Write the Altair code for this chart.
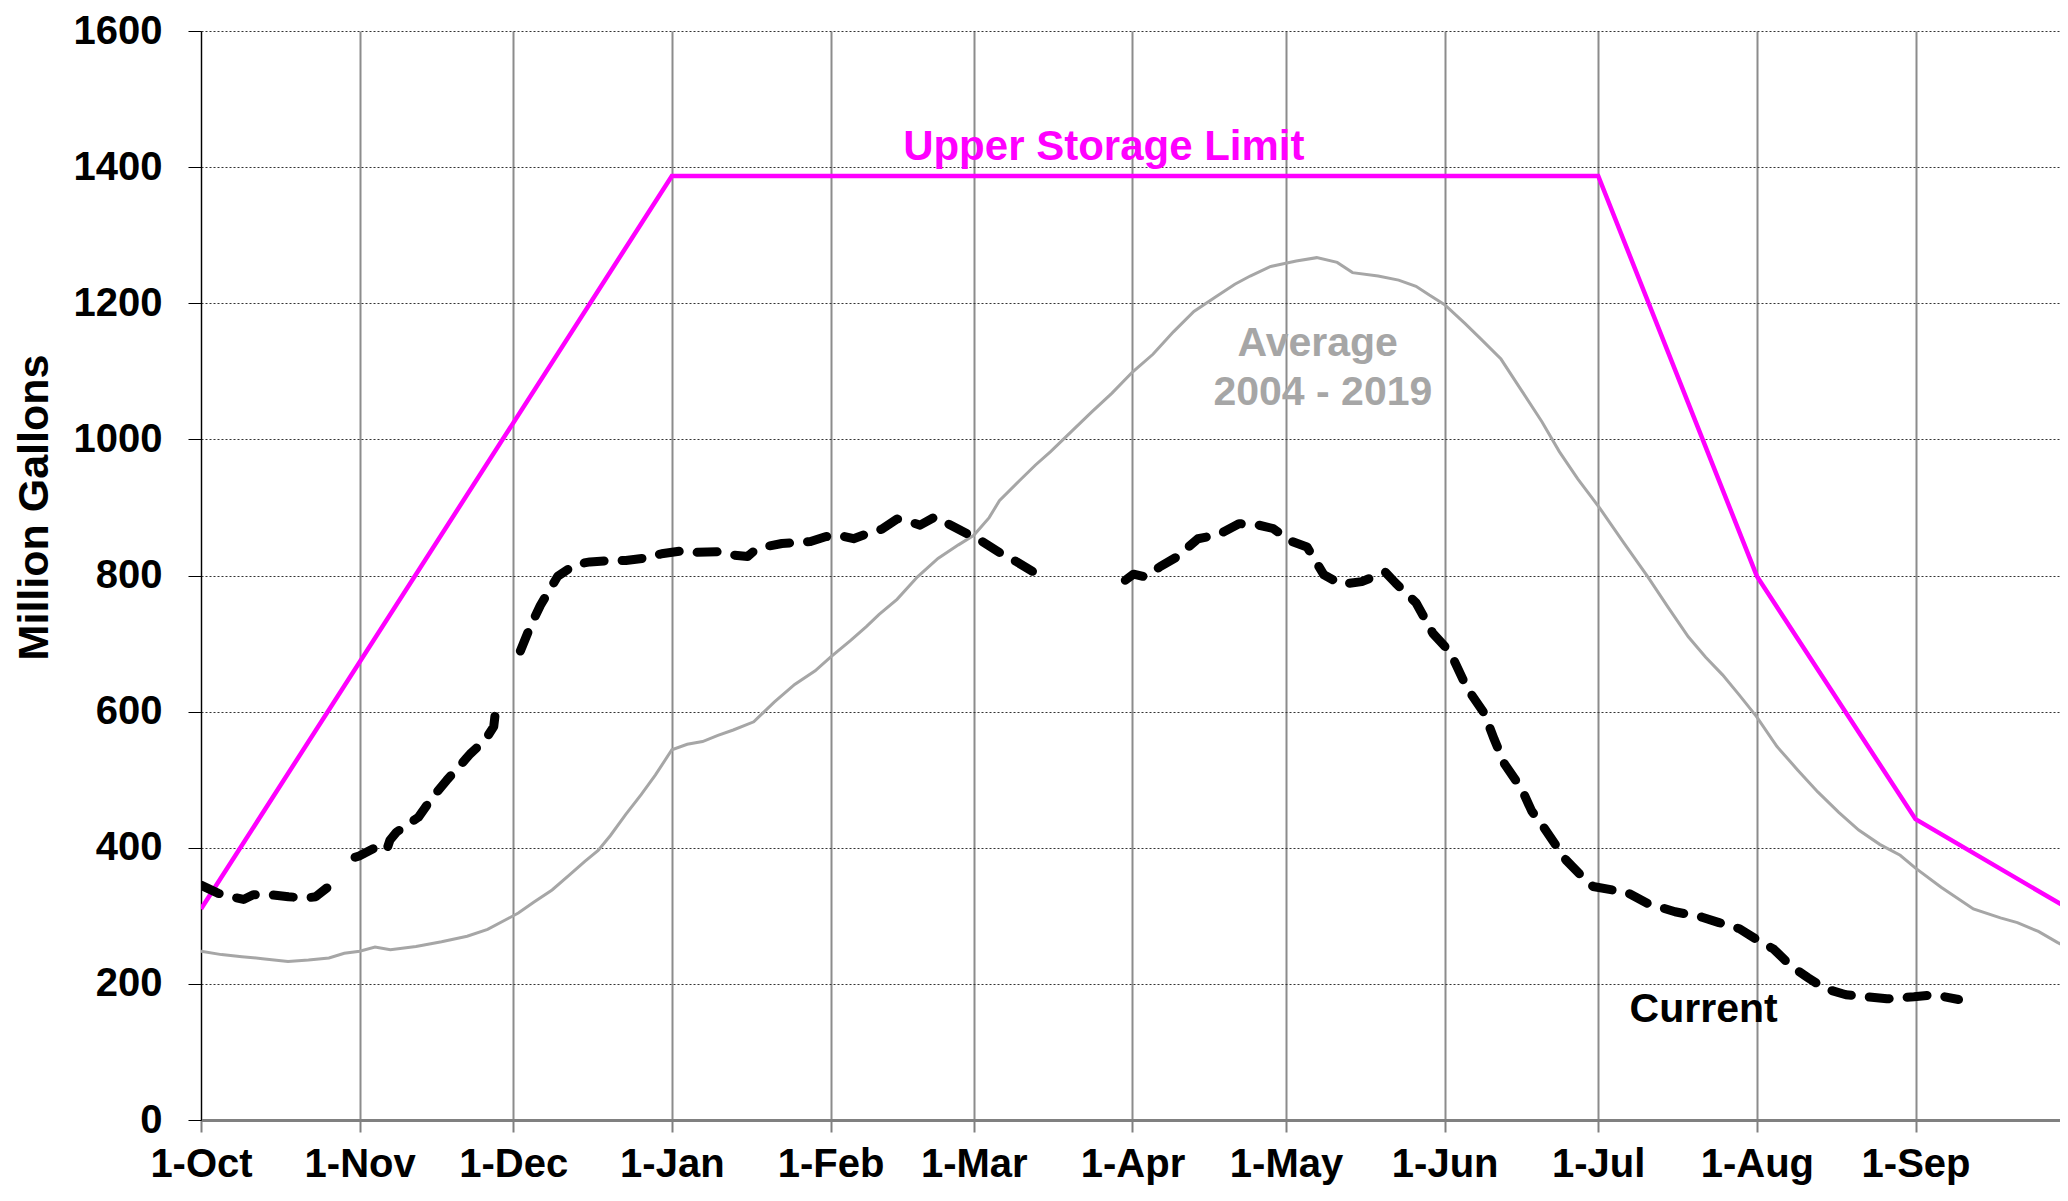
import json
import altair as alt
import pandas as pd

# ---------------- data ----------------
month_days = [0, 31, 61, 92, 123, 151, 182, 212, 243, 273, 304, 335]
month_labels = ["1-Oct", "1-Nov", "1-Dec", "1-Jan", "1-Feb", "1-Mar",
                "1-Apr", "1-May", "1-Jun", "1-Jul", "1-Aug", "1-Sep"]
y_ticks = [0, 200, 400, 600, 800, 1000, 1200, 1400, 1600]

limit_days = [0, 92, 273, 304, 335, 365]
limit_values = [310, 1387, 1387, 799, 442, 310]

avg_days = [0, 4, 8, 12, 17, 21, 25, 28, 31, 34,
            37, 42, 47, 52, 56, 60, 62, 65, 68.6, 72,
            75, 77.6, 80, 83, 86, 88.8, 92, 95, 98, 101,
            104, 108, 112, 116, 120, 123, 127, 130, 132.5, 136,
            140, 144, 148, 151, 154, 156, 160, 163, 166, 170,
            174, 178, 182, 186, 190, 194, 198, 202, 205, 209,
            214, 218, 222, 225, 230, 234, 237.4, 240, 243, 247,
            250, 254, 258, 262, 265.4, 269, 273.3, 278, 282.6, 286.5,
            290.6, 294, 297.3, 300.5, 303.9, 307.9, 312, 315.9, 320, 323.9,
            328, 332, 335, 340, 346.3, 351.6, 354.9, 359, 362.7, 365]
avg_values = [248, 243, 240, 237, 233, 235, 238, 245, 248, 254,
              250, 255, 262, 270, 280, 296, 304, 320, 338, 360,
              380, 396, 418, 449, 478, 507, 544, 552, 556, 565,
              573, 585, 614, 640, 660, 680, 705, 725, 743, 765,
              798, 825, 845, 859, 885, 910, 940, 962, 982, 1011,
              1040, 1068, 1099, 1125, 1158, 1188, 1208, 1228, 1240, 1254,
              1262, 1267, 1260, 1245, 1240, 1234, 1225, 1212, 1198, 1170,
              1148, 1118, 1072, 1026, 982, 942, 899, 848, 799, 755,
              710, 680, 654, 625, 593, 549, 514, 482, 452, 426,
              405, 389, 370, 342, 310, 297, 290, 277, 261, 252]

# None marks a gap in the record
cur_days = [0, 3.4, 6, 8.3, 10.2, 13.5, 17.1, 20.4, 22.4, 24.6,
            None,
            30.1, 30.9, 34.3, 36.3, 36.9, 38.2, 42.5, 45.1, 48, 51.8, 52.6, 55.5, 57.2, 57.5,
            None,
            62.4, 64.4, 66.3, 69.7, 73.1, 76, 79.9, 83, 87.1, 90, 93.9, 97, 101.2, 104,
            106.8, 107.9, 110, 113.5, 116, 119.1, 122, 124.7, 127.5, 130, 133, 136, 138,
            140.5, 143.4, 146.7, 150.3, 152.2, 156.4, 159.4, 163.6,
            None,
            180.6, 182.2, 184.5, 187.4, 190.6, 194.8, 198.8, 202.8, 206.1, 209.5, 212.8,
            216.1, 219.4, 222.8, 226.8, 231.4, 233.4, 237.4, 240.7, 244.1, 247.4, 250.7,
            252.7, 254.7, 258, 260, 262, 264.7, 266.7, 269.3, 272, 278.7, 282.7, 288,
            293.3, 296.6, 300.6, 304, 307.3, 310.7, 314, 317.3, 321.4, 325.4, 329.4,
            334.7, 338.7, 343.4]
cur_values = [345, 333, 328, 324, 331, 331, 328, 326, 328, 341,
              None,
              386, 388, 401, 397, 411, 423, 445, 473, 499, 531, 538, 558, 578, 598,
              None,
              689, 726, 756, 799, 816, 820, 822, 822, 826, 832, 836, 834, 835, 830,
              828, 835, 842, 847, 848, 850, 857, 859, 854, 861, 868, 883, 880,
              874, 886, 873, 859, 852, 832, 820, 801,
              None,
              793, 802, 798, 813, 827, 854, 860, 876, 875, 869, 851,
              842, 801, 787, 791, 805, 789, 760, 715, 687, 634, 598,
              559, 523, 487, 454, 434, 404, 382, 362, 343, 334, 318, 306,
              298, 290, 281, 265, 251, 226, 209, 193, 184, 181, 178,
              181, 184, 177]

ann_text = ["Upper Storage Limit", "Average", "2004 - 2019", "Current"]
ann_day = [176.4, 218.2, 219.2, 293.6]
ann_value = [1410, 1123, 1050, 144]
ann_color = ["#FF00FF", "#A6A6A6", "#A6A6A6", "#000000"]
ann_size = [42, 41, 41, 41]

# ---------------- tables ----------------
limit_df = pd.DataFrame({"day": limit_days, "value": limit_values})
avg_df = pd.DataFrame({"day": avg_days, "value": avg_values})
rows = []
seg = 0
for d, v in zip(cur_days, cur_values):
    if v is None:
        seg += 1
        continue
    rows.append({"day": d, "value": v, "seg": seg})
cur_df = pd.DataFrame(rows)
ann_df = pd.DataFrame({"day": ann_day, "value": ann_value, "text": ann_text,
                       "color": ann_color, "fs": ann_size})

FONT = "Liberation Sans"
W, H = 1859, 1089
label_expr = "%s[indexof(%s, datum.value)]" % (json.dumps(month_labels), json.dumps(month_days))

x_enc = alt.X(
    "day:Q",
    scale=alt.Scale(domain=[0, W / 5.118], nice=False, zero=False),
    axis=alt.Axis(values=month_days, labelExpr=label_expr, title=None,
                  grid=True, gridColor="#8c8c8c", gridWidth=2,
                  domainColor="#808080", domainWidth=3,
                  tickColor="#808080", tickWidth=2, tickSize=12,
                  labelFont=FONT, labelFontSize=40, labelFontWeight="bold",
                  labelColor="black", labelPadding=12, labelFlush=False,
                  labelOverlap=False),
)
y_enc = alt.Y(
    "value:Q",
    scale=alt.Scale(domain=[0, 1600], nice=False),
    axis=alt.Axis(values=y_ticks, format="d", title="Million Gallons",
                  grid=True, gridColor="#333333", gridDash=[2, 2], gridWidth=1,
                  domainColor="black", domainWidth=1,
                  tickColor="black", tickWidth=1, tickSize=13,
                  labelFont=FONT, labelFontSize=40, labelFontWeight="bold",
                  labelColor="black", labelPadding=26, labelFlush=False,
                  titleFont=FONT, titleFontSize=43, titleFontWeight="bold",
                  titleColor="black", titleX=-167, titleY=476, titleAngle=270,
                  titleAlign="center", titleBaseline="middle"),
)

avg_line = alt.Chart(avg_df).mark_line(color="#A6A6A6", strokeWidth=3, clip=True).encode(
    x=x_enc, y=y_enc)
limit_line = alt.Chart(limit_df).mark_line(color="#FF00FF", strokeWidth=4.5, clip=True).encode(
    x=x_enc, y=y_enc)
cur_line = alt.Chart(cur_df).mark_line(
    color="black", strokeWidth=9, strokeDash=[20, 18], strokeCap="round",
    strokeJoin="round", clip=True).encode(x=x_enc, y=y_enc, detail="seg:N")
labels = alt.Chart(ann_df).mark_text(
    font=FONT, fontWeight="bold", align="center", baseline="alphabetic").encode(
    x=x_enc, y=y_enc, text="text:N",
    color=alt.Color("color:N", scale=None),
    size=alt.Size("fs:Q", scale=None))

chart = alt.layer(avg_line, limit_line, cur_line, labels).properties(
    width=W, height=H,
    autosize=alt.AutoSizeParams(type="none"),
    padding={"left": 193, "top": 23, "right": 0, "bottom": 66},
    background="white",
).configure_view(stroke=None)

chart.save("out.html", embed_options={"renderer": "svg", "actions": False})
